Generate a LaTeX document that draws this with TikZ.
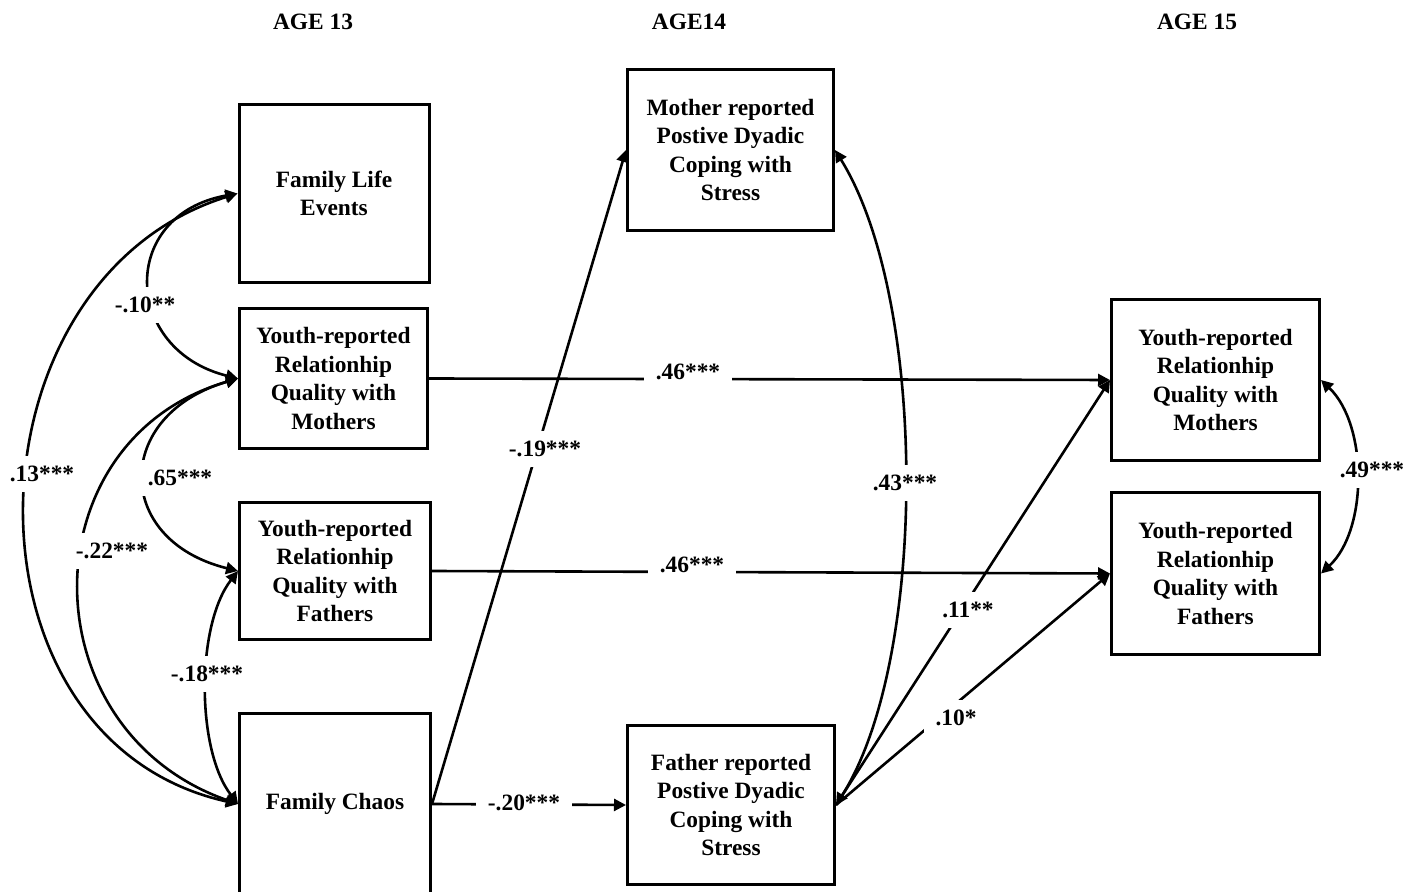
\documentclass[tikz,border=0pt]{standalone}
\usepackage{fontspec}
\setmainfont{Liberation Serif}
\usetikzlibrary{arrows.meta}
\begin{document}
\begin{tikzpicture}[x=0.5pt,y=-0.5pt,
  font=\fontsize{11.7}{14.25}\selectfont\bfseries,
  box/.style={draw, line width=1.5pt, align=center, inner sep=0pt},
  conn/.style={line width=1.3pt, -{Triangle[length=6pt,width=6pt]}},
  cov/.style={line width=1.3pt, {Triangle[length=6pt,width=6pt]}-{Triangle[length=6pt,width=6pt]}},
  lbl/.style={fill=white, inner xsep=6pt, inner ysep=5pt}]
\useasboundingbox (0,0) rectangle (1410,892);
\clip (0,0) rectangle (1410,892);

% wave headings
\node (h13) at (313,22) {AGE 13};
\node (h14) at (689,22) {AGE14};
\node (h15) at (1197,22) {AGE 15};

% age 13 measures
\node[box, minimum width=95pt, minimum height=89pt] (fle) at (334,193.5) {Family Life\\Events};
\node[box, minimum width=94pt, minimum height=70pt] (ym) at (333.5,378.5) {Youth-reported\\Relationhip\\Quality with\\Mothers};
\node[box, minimum width=95.5pt, minimum height=68.5pt] (yf) at (335,571) {Youth-reported\\Relationhip\\Quality with\\Fathers};
\node[box, minimum width=95.5pt, minimum height=90pt] (fc) at (335,804) {Family Chaos};

% age 14 measures
\node[box, minimum width=103pt, minimum height=80.5pt] (mr) at (730.5,150) {Mother reported\\Postive Dyadic\\Coping with\\Stress};
\node[box, minimum width=103.5pt, minimum height=79.5pt] (fr) at (731,805) {Father reported\\Postive Dyadic\\Coping with\\Stress};

% age 15 measures
\node[box, minimum width=104pt, minimum height=80.5pt] (rym) at (1215.5,380) {Youth-reported\\Relationhip\\Quality with\\Mothers};
\node[box, minimum width=104pt, minimum height=81pt] (ryf) at (1215.5,573.5) {Youth-reported\\Relationhip\\Quality with\\Fathers};

% regression paths
\draw[conn] (ym.east) -- (rym.west) node[lbl] at (688,372) {.46***};
\draw[conn] (yf.east) -- (ryf.west) node[lbl] at (692,565) {.46***};
\draw[conn] (fc.east) -- (mr.west) node[lbl] at (545,449) {-.19***};
\draw[conn] (fc.east) -- (fr.west) node[lbl] at (524,803) {-.20***};
\draw[conn] (fr.east) -- (rym.west) node[lbl] at (968,610) {.11**};
\draw[conn] (fr.east) -- (ryf.west) node[lbl] at (956,718) {.10*};

% covariances among age 13 measures
\draw[cov] (fle.west) .. controls (118,215) and (123,350) .. (ym.west)
  node[lbl] at (145,305) {-.10**};
\draw[cov] (fle.west) .. controls (-40,280) and (-50,740) .. (fc.west)
  node[lbl] at (42,474) {.13***};
\draw[cov] (ym.west) .. controls (113,415) and (113,540) .. (yf.west)
  node[lbl] at (180,478) {.65***};
\draw[cov] (ym.west) .. controls (27,440) and (27,730) .. (fc.west)
  node[lbl] at (112,551) {-.22***};
\draw[cov] (yf.west) .. controls (196,625) and (196,750) .. (fc.west)
  node[lbl] at (207,674) {-.18***};

% residual covariances at ages 14 and 15
\draw[cov] (mr.east) .. controls (928,300) and (928,660) .. (fr.east)
  node[lbl] at (905,483) {.43***};
\draw[cov] (rym.east) .. controls (1368,425) and (1368,530) .. (ryf.east)
  node[lbl] at (1372,470) {.49***};
\end{tikzpicture}
\end{document}
